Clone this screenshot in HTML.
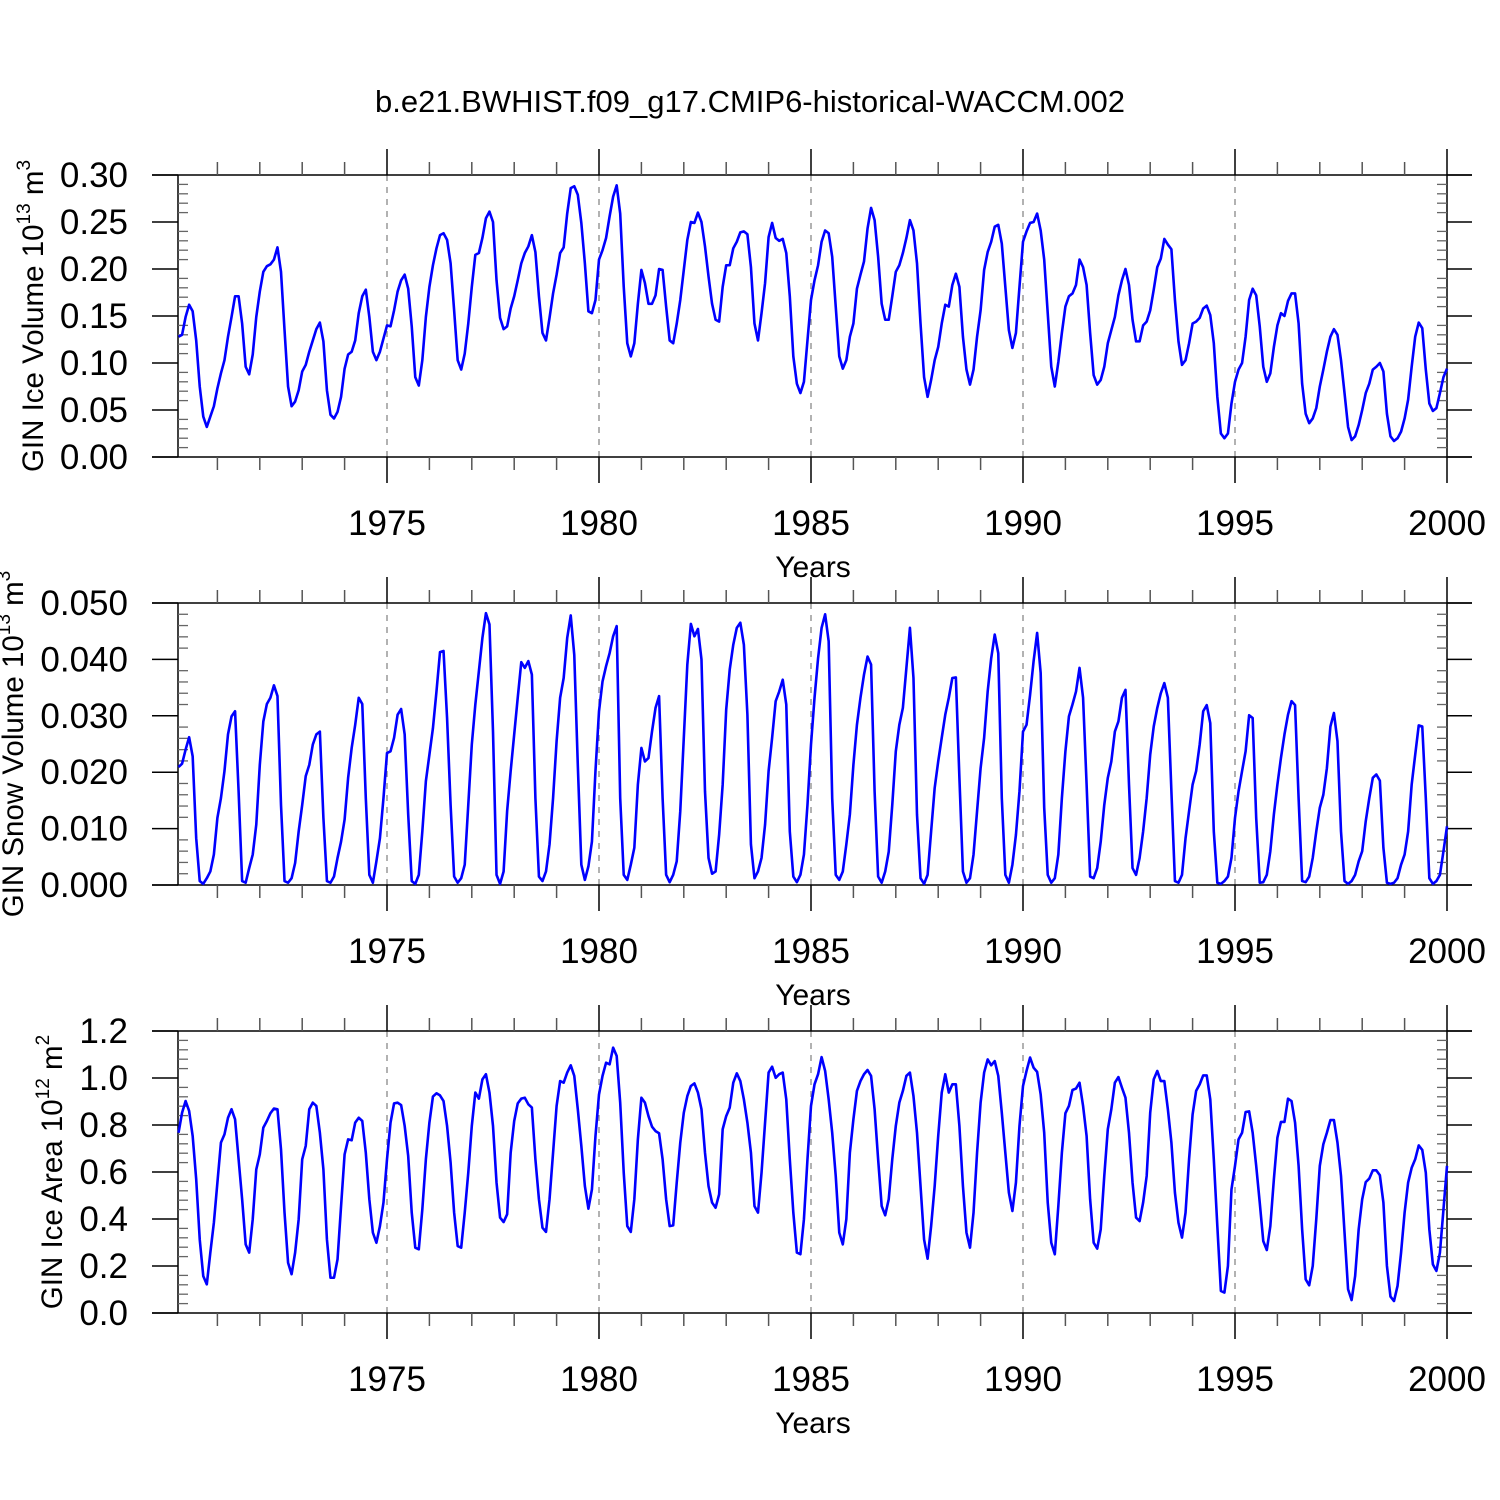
<!DOCTYPE html>
<html><head><meta charset="utf-8"><style>
html,body{margin:0;padding:0;background:#fff;}
svg{display:block;font-family:"Liberation Sans",Arial,sans-serif;}
</style></head><body>
<svg id="chart" width="1500" height="1500" viewBox="0 0 1500 1500" xmlns="http://www.w3.org/2000/svg">
<rect x="0" y="0" width="1500" height="1500" fill="#fff"/>
<text x="750" y="112" font-size="31" text-anchor="middle">b.e21.BWHIST.f09_g17.CMIP6-historical-WACCM.002</text>
</svg>
<script>
const years = [1975,1980,1985,1990,1995,2000];
const iceTicks = ["0.00","0.05","0.10","0.15","0.20","0.25","0.30"];
const snowTicks = ["0.000","0.010","0.020","0.030","0.040","0.050"];
const areaTicks = ["0.0","0.2","0.4","0.6","0.8","1.0","1.2"];
const ice = [
0.128,0.130,0.149,0.162,0.155,0.124,0.075,0.043,0.032,0.043,0.054,0.073,
0.089,0.103,0.128,0.149,0.171,0.171,0.142,0.096,0.088,0.109,0.149,0.176,
0.197,0.203,0.205,0.210,0.223,0.197,0.135,0.075,0.054,0.059,0.071,0.091,
0.098,0.112,0.124,0.136,0.143,0.123,0.071,0.045,0.041,0.048,0.064,0.094,
0.109,0.112,0.124,0.153,0.171,0.178,0.149,0.112,0.103,0.112,0.126,0.140,
0.139,0.156,0.176,0.188,0.194,0.179,0.139,0.085,0.076,0.103,0.149,0.181,
0.204,0.222,0.236,0.238,0.231,0.206,0.156,0.103,0.093,0.110,0.142,0.181,
0.215,0.217,0.233,0.254,0.261,0.250,0.188,0.148,0.136,0.139,0.158,0.171,
0.188,0.206,0.217,0.224,0.236,0.218,0.171,0.132,0.124,0.148,0.174,0.194,
0.217,0.223,0.259,0.286,0.288,0.279,0.249,0.206,0.155,0.153,0.167,0.210,
0.220,0.233,0.256,0.277,0.289,0.259,0.181,0.121,0.107,0.121,0.163,0.199,
0.185,0.163,0.163,0.172,0.200,0.199,0.160,0.124,0.121,0.142,0.167,0.199,
0.231,0.250,0.249,0.260,0.250,0.224,0.192,0.163,0.146,0.144,0.181,0.204,
0.204,0.222,0.229,0.239,0.240,0.237,0.202,0.142,0.124,0.153,0.185,0.234,
0.249,0.233,0.230,0.232,0.217,0.171,0.107,0.078,0.068,0.080,0.124,0.167,
0.188,0.204,0.229,0.241,0.238,0.213,0.160,0.107,0.094,0.103,0.128,0.142,
0.179,0.194,0.208,0.243,0.265,0.252,0.213,0.163,0.146,0.146,0.171,0.197,
0.204,0.217,0.233,0.252,0.241,0.206,0.142,0.085,0.064,0.082,0.103,0.117,
0.142,0.162,0.160,0.183,0.195,0.181,0.128,0.093,0.077,0.093,0.128,0.156,
0.199,0.218,0.229,0.245,0.247,0.227,0.181,0.135,0.116,0.132,0.181,0.229,
0.240,0.249,0.250,0.259,0.241,0.210,0.153,0.096,0.075,0.101,0.132,0.160,
0.171,0.174,0.183,0.210,0.202,0.183,0.132,0.087,0.077,0.082,0.096,0.121,
0.135,0.149,0.172,0.188,0.200,0.183,0.146,0.123,0.123,0.140,0.144,0.156,
0.178,0.202,0.211,0.232,0.226,0.221,0.167,0.123,0.098,0.103,0.121,0.142,
0.144,0.148,0.158,0.161,0.151,0.121,0.064,0.025,0.020,0.025,0.057,0.080,
0.093,0.100,0.128,0.167,0.179,0.172,0.139,0.096,0.080,0.089,0.117,0.140,
0.153,0.150,0.166,0.174,0.174,0.142,0.078,0.046,0.036,0.041,0.052,0.075,
0.093,0.112,0.128,0.136,0.130,0.103,0.068,0.032,0.018,0.022,0.034,0.050,
0.068,0.078,0.093,0.096,0.100,0.091,0.046,0.022,0.017,0.020,0.027,0.041,
0.061,0.096,0.128,0.143,0.137,0.093,0.057,0.049,0.052,0.068,0.085,0.094];
const snow = [
0.0209,0.0215,0.0240,0.0262,0.0228,0.0083,0.0007,0.0002,0.0012,0.0024,0.0054,0.0119,
0.0154,0.0202,0.0267,0.0299,0.0308,0.0166,0.0007,0.0004,0.0030,0.0054,0.0107,0.0213,
0.0290,0.0321,0.0332,0.0354,0.0335,0.0142,0.0007,0.0004,0.0012,0.0039,0.0095,0.0142,
0.0193,0.0213,0.0249,0.0267,0.0272,0.0119,0.0007,0.0004,0.0015,0.0048,0.0077,0.0116,
0.0190,0.0243,0.0284,0.0332,0.0321,0.0154,0.0018,0.0004,0.0042,0.0083,0.0154,0.0234,
0.0237,0.0261,0.0302,0.0312,0.0267,0.0125,0.0007,0.0002,0.0018,0.0095,0.0184,0.0231,
0.0278,0.0343,0.0413,0.0415,0.0296,0.0142,0.0015,0.0004,0.0012,0.0036,0.0142,0.0249,
0.0320,0.0379,0.0438,0.0482,0.0462,0.0272,0.0018,0.0002,0.0024,0.0131,0.0202,0.0267,
0.0332,0.0395,0.0385,0.0397,0.0373,0.0154,0.0015,0.0007,0.0024,0.0072,0.0154,0.0255,
0.0332,0.0367,0.0438,0.0478,0.0408,0.0213,0.0036,0.0009,0.0033,0.0077,0.0202,0.0308,
0.0361,0.0388,0.0411,0.0441,0.0459,0.0154,0.0018,0.0009,0.0036,0.0066,0.0178,0.0243,
0.0219,0.0225,0.0272,0.0314,0.0335,0.0154,0.0018,0.0005,0.0018,0.0042,0.0131,0.0261,
0.0391,0.0463,0.0441,0.0454,0.0400,0.0166,0.0048,0.0020,0.0024,0.0089,0.0178,0.0311,
0.0382,0.0426,0.0456,0.0465,0.0426,0.0302,0.0072,0.0012,0.0024,0.0048,0.0107,0.0202,
0.0261,0.0326,0.0343,0.0364,0.0320,0.0095,0.0015,0.0005,0.0018,0.0054,0.0142,0.0249,
0.0332,0.0402,0.0456,0.0480,0.0432,0.0154,0.0018,0.0009,0.0024,0.0072,0.0125,0.0213,
0.0284,0.0332,0.0373,0.0405,0.0391,0.0166,0.0015,0.0004,0.0024,0.0059,0.0142,0.0237,
0.0284,0.0314,0.0385,0.0456,0.0367,0.0125,0.0012,0.0002,0.0018,0.0095,0.0172,0.0219,
0.0261,0.0302,0.0332,0.0367,0.0368,0.0190,0.0024,0.0004,0.0012,0.0054,0.0131,0.0207,
0.0261,0.0343,0.0402,0.0444,0.0411,0.0154,0.0018,0.0004,0.0036,0.0089,0.0166,0.0272,
0.0284,0.0337,0.0397,0.0447,0.0376,0.0137,0.0018,0.0004,0.0012,0.0054,0.0154,0.0237,
0.0299,0.0320,0.0343,0.0385,0.0332,0.0178,0.0015,0.0012,0.0030,0.0077,0.0142,0.0190,
0.0219,0.0272,0.0290,0.0332,0.0346,0.0178,0.0030,0.0018,0.0048,0.0095,0.0154,0.0231,
0.0281,0.0314,0.0340,0.0358,0.0332,0.0166,0.0007,0.0004,0.0018,0.0083,0.0131,0.0178,
0.0202,0.0249,0.0308,0.0319,0.0287,0.0095,0.0004,0.0002,0.0007,0.0015,0.0048,0.0119,
0.0166,0.0202,0.0237,0.0301,0.0296,0.0119,0.0004,0.0005,0.0018,0.0060,0.0125,0.0178,
0.0225,0.0267,0.0302,0.0326,0.0319,0.0154,0.0007,0.0005,0.0015,0.0048,0.0095,0.0137,
0.0160,0.0207,0.0281,0.0305,0.0255,0.0095,0.0007,0.0002,0.0007,0.0018,0.0042,0.0060,
0.0113,0.0154,0.0190,0.0196,0.0185,0.0066,0.0004,0.0002,0.0004,0.0012,0.0036,0.0054,
0.0095,0.0178,0.0231,0.0283,0.0281,0.0154,0.0012,0.0002,0.0007,0.0018,0.0060,0.0104];
const area = [
0.767,0.852,0.902,0.860,0.753,0.569,0.313,0.157,0.122,0.257,0.384,0.555,
0.725,0.760,0.831,0.867,0.824,0.654,0.484,0.292,0.257,0.399,0.611,0.675,
0.789,0.817,0.850,0.870,0.867,0.696,0.427,0.214,0.165,0.257,0.399,0.654,
0.711,0.867,0.895,0.881,0.767,0.611,0.313,0.150,0.150,0.228,0.455,0.675,
0.739,0.735,0.810,0.831,0.817,0.682,0.484,0.342,0.299,0.370,0.470,0.654,
0.810,0.892,0.895,0.885,0.796,0.668,0.427,0.278,0.271,0.441,0.654,0.810,
0.921,0.935,0.926,0.902,0.796,0.640,0.427,0.285,0.278,0.427,0.597,0.796,
0.938,0.912,0.994,1.016,0.938,0.796,0.555,0.406,0.387,0.420,0.682,0.817,
0.892,0.912,0.916,0.888,0.874,0.654,0.484,0.363,0.345,0.484,0.682,0.881,
0.987,0.980,1.023,1.054,1.009,0.867,0.711,0.540,0.444,0.526,0.753,0.930,
1.009,1.065,1.058,1.129,1.094,0.895,0.597,0.370,0.345,0.484,0.739,0.916,
0.895,0.838,0.793,0.774,0.765,0.654,0.484,0.370,0.373,0.555,0.725,0.852,
0.923,0.966,0.977,0.938,0.867,0.682,0.540,0.470,0.448,0.505,0.782,0.838,
0.874,0.980,1.020,0.987,0.909,0.810,0.682,0.455,0.427,0.597,0.810,1.023,
1.048,1.001,1.016,1.023,0.909,0.654,0.427,0.257,0.250,0.399,0.654,0.881,
0.973,1.016,1.089,1.030,0.909,0.767,0.583,0.342,0.292,0.399,0.682,0.824,
0.945,0.987,1.016,1.034,1.009,0.867,0.654,0.455,0.416,0.484,0.654,0.796,
0.895,0.945,1.009,1.023,0.923,0.767,0.540,0.313,0.231,0.370,0.540,0.753,
0.938,1.016,0.938,0.973,0.973,0.796,0.540,0.342,0.278,0.427,0.682,0.895,
1.023,1.079,1.054,1.072,1.009,0.852,0.682,0.512,0.434,0.555,0.796,0.966,
1.030,1.087,1.044,1.026,0.930,0.767,0.470,0.299,0.250,0.455,0.682,0.850,
0.881,0.949,0.955,0.980,0.881,0.753,0.484,0.299,0.274,0.356,0.583,0.782,
0.867,0.980,1.004,0.959,0.916,0.767,0.555,0.406,0.391,0.470,0.583,0.852,
0.994,1.030,0.987,0.987,0.867,0.725,0.512,0.384,0.321,0.427,0.654,0.845,
0.945,0.973,1.011,1.011,0.909,0.654,0.370,0.094,0.087,0.200,0.526,0.626,
0.739,0.767,0.855,0.858,0.767,0.626,0.470,0.306,0.268,0.370,0.569,0.746,
0.813,0.813,0.912,0.902,0.810,0.626,0.356,0.143,0.118,0.200,0.399,0.626,
0.718,0.767,0.821,0.821,0.725,0.583,0.342,0.101,0.055,0.157,0.356,0.484,
0.557,0.572,0.607,0.607,0.586,0.470,0.200,0.070,0.051,0.115,0.257,0.427,
0.555,0.618,0.654,0.713,0.694,0.597,0.356,0.207,0.179,0.257,0.441,0.626];

const NS = "http://www.w3.org/2000/svg";
const svg = document.getElementById('chart');
const X0 = 175, PXY = 42.4;
function xOf(t){ return X0 + (t - 1970) * PXY; }
function mk(tag, attrs, parent){
  const e = document.createElementNS(NS, tag);
  for (const k in attrs) e.setAttribute(k, attrs[k]);
  (parent || svg).appendChild(e);
  return e;
}

function panel(cfg){
  const g = mk('g', {});
  
  
  const top = cfg.top, bot = cfg.top + 282;
  const yOf = v => bot - (v - cfg.ymin) / (cfg.ymax - cfg.ymin) * 282;
  years.forEach(yr => {
    if (yr >= 2000) return;
    const gl = mk('line', {x1:xOf(yr), x2:xOf(yr), y1:top, y2:bot, stroke:'#888', 'stroke-width':1.3, 'stroke-dasharray':'6,6'}, g);
    
    
  });
  const fr = mk('path', {d:`M152 ${top}H1472M152 ${bot}H1472M178 ${top}V${bot}M1447 ${top}V${bot}`, stroke:'#000', 'stroke-width':1.5, fill:'none'}, g);
  
  
  const nMaj = cfg.labels.length;
  for (let k = 0; k < nMaj; k++){
    const v = cfg.ymin + k * cfg.step;
    const y = yOf(v);
    mk('line', {x1:152, x2:178, y1:y, y2:y, stroke:'#000', 'stroke-width':1.5}, g);
    mk('line', {x1:1447, x2:1472, y1:y, y2:y, stroke:'#000', 'stroke-width':1.5}, g);
    const tl = mk('text', {x:128, y:y + 12, 'font-size':35, 'text-anchor':'end'}, g);
    
    
    tl.textContent = cfg.labels[k];
    if (k < nMaj - 1){
      for (let m = 1; m < 5; m++){
        const ym = yOf(v + m * cfg.step / 5);
        mk('line', {x1:178, x2:188, y1:ym, y2:ym, stroke:'#666', 'stroke-width':1.3}, g);
        mk('line', {x1:1437, x2:1447, y1:ym, y2:ym, stroke:'#666', 'stroke-width':1.3}, g);
      }
    }
  }
  for (let yr = 1971; yr <= 2000; yr++){
    const x = xOf(yr);
    const major = years.includes(yr);
    const len = major ? 26 : 13;
    mk('line', {x1:x, x2:x, y1:bot, y2:bot + len, stroke: major ? '#000' : '#555', 'stroke-width':1.5}, g);
    mk('line', {x1:x, x2:x, y1:top, y2:top - len, stroke: major ? '#000' : '#555', 'stroke-width':1.5}, g);
  }
  years.forEach(yr => {
    const xl = mk('text', {x:xOf(yr), y:bot + 78, 'font-size':35, 'text-anchor':'middle'}, g);
    
    
    xl.textContent = yr;
  });
  const xt = mk('text', {x:813, y:bot + 120, 'font-size':30, 'text-anchor':'middle'}, g);
  
  
  xt.textContent = 'Years';
  const yt = mk('text', {transform:`translate(${cfg.titleX},${(top+bot)/2}) rotate(-90)`, 'font-size':29.5, 'text-anchor':'middle'}, g);
  
  
  const t1 = mk('tspan', {}, yt); t1.textContent = cfg.title + ' 10';
  const t2 = mk('tspan', {dy:-13, 'font-size':19}, yt); t2.textContent = cfg.exp;
  const t3 = mk('tspan', {dy:13}, yt); t3.textContent = ' m';
  const t4 = mk('tspan', {dy:-13, 'font-size':19}, yt); t4.textContent = cfg.unitExp;
  const pts = cfg.data.map((v, i) => xOf(1970 + (i + 1) / 12).toFixed(2) + ',' + yOf(v).toFixed(2)).join(' ');
  const ln = mk('polyline', {points:pts, fill:'none', stroke:'#0000ff', 'stroke-width':2.6, 'stroke-linejoin':'round'}, g);
  
  
}

panel({name:'ice-volume-panel', top:175, ymin:0, ymax:0.30, step:0.05, labels:iceTicks, data:ice, title:'GIN Ice Volume', exp:'13', unitExp:'3', titleX:43});
panel({name:'snow-volume-panel', top:603, ymin:0, ymax:0.050, step:0.010, labels:snowTicks, data:snow, title:'GIN Snow Volume', exp:'13', unitExp:'3', titleX:23});
panel({name:'ice-area-panel', top:1031, ymin:0, ymax:1.2, step:0.2, labels:areaTicks, data:area, title:'GIN Ice Area', exp:'12', unitExp:'2', titleX:62});
</script>
</body></html>
